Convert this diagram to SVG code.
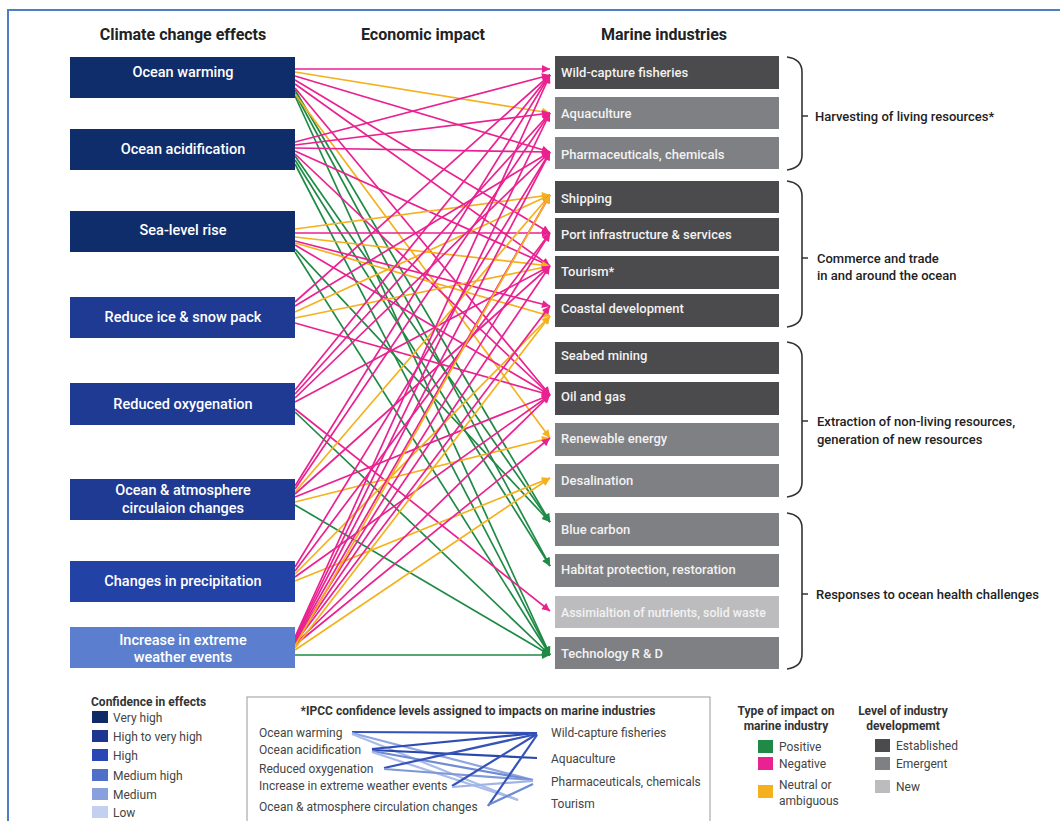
<svg xmlns="http://www.w3.org/2000/svg" width="1060" height="821" viewBox="0 0 1060 821">
<defs>
<style>
text{font-family:Roboto,"Liberation Sans",sans-serif}
.hdr{font-size:16px;font-weight:700;fill:#222;text-anchor:middle}
.lt{font-size:14.5px;font-weight:500;fill:#fff;text-anchor:middle}
.rt{font-size:13px;font-weight:500;fill:#f2f2f2}
.bl{font-size:13px;font-weight:500;fill:#222}
.br{fill:none;stroke:#333;stroke-width:1.6}
.est{fill:#4b4b4d}.emg{fill:#7e8083}.new{fill:#bcbcbe}
.c line{stroke-width:1.7;fill:none}
.n{stroke:#ea2190;marker-end:url(#mn)}
.o{stroke:#f5b11d;marker-end:url(#mo)}
.g{stroke:#1f8a45;marker-end:url(#mg)}
.lg{font-size:12px;fill:#444}
.lgb{font-size:12px;font-weight:700;fill:#333}
.ip{font-size:12px;fill:#444}
.il line{stroke-width:2.2}
</style>
<marker id="mn" markerUnits="userSpaceOnUse" markerWidth="10" markerHeight="8" viewBox="0 0 10 10" refX="10" refY="5" orient="auto"><path d="M0,0L10,5L0,10z" fill="#ea2190"/></marker>
<marker id="mo" markerUnits="userSpaceOnUse" markerWidth="10" markerHeight="8" viewBox="0 0 10 10" refX="10" refY="5" orient="auto"><path d="M0,0L10,5L0,10z" fill="#f5b11d"/></marker>
<marker id="mg" markerUnits="userSpaceOnUse" markerWidth="10" markerHeight="8" viewBox="0 0 10 10" refX="10" refY="5" orient="auto"><path d="M0,0L10,5L0,10z" fill="#1f8a45"/></marker>
</defs>
<rect width="1060" height="821" fill="#fff"/>
<path d="M8,830V10H1060" fill="none" stroke="#4d7fc2" stroke-width="2"/>

<g id="headers">
<text class="hdr" x="183" y="40">Climate change effects</text>
<text class="hdr" x="423" y="40">Economic impact</text>
<text class="hdr" x="664" y="40">Marine industries</text>
</g>

<g id="connectors" class="c">
<!-- Ocean warming -->
<line class="g" x1="295" y1="90" x2="550" y2="522"/>
<line class="g" x1="295" y1="93" x2="550" y2="566"/>
<line class="g" x1="295" y1="96" x2="550" y2="655"/>
<line class="o" x1="295" y1="94" x2="550" y2="438"/>
<line class="n" x1="295" y1="69" x2="550" y2="69"/>
<line class="o" x1="295" y1="72" x2="550" y2="113"/>
<line class="n" x1="295" y1="76" x2="550" y2="152"/>
<line class="n" x1="295" y1="80" x2="550" y2="233"/>
<line class="n" x1="295" y1="84" x2="550" y2="266"/>
<line class="n" x1="295" y1="88" x2="550" y2="395"/>
<!-- Ocean acidification -->
<line class="g" x1="295" y1="156" x2="550" y2="522"/>
<line class="g" x1="295" y1="160" x2="550" y2="566"/>
<line class="g" x1="295" y1="164" x2="550" y2="655"/>
<line class="n" x1="295" y1="142" x2="550" y2="75"/>
<line class="n" x1="295" y1="145" x2="550" y2="113"/>
<line class="n" x1="295" y1="148" x2="550" y2="152"/>
<line class="n" x1="295" y1="151" x2="550" y2="266"/>
<line class="n" x1="295" y1="154" x2="550" y2="395"/>
<!-- Sea-level rise -->
<line class="g" x1="295" y1="249" x2="550" y2="522"/>
<line class="g" x1="295" y1="252" x2="550" y2="655"/>
<line class="o" x1="295" y1="229" x2="550" y2="195"/>
<line class="n" x1="295" y1="233" x2="550" y2="233"/>
<line class="o" x1="295" y1="237" x2="550" y2="266"/>
<line class="n" x1="295" y1="241" x2="550" y2="306"/>
<line class="n" x1="295" y1="245" x2="550" y2="395"/>
<line class="o" x1="295" y1="243" x2="550" y2="316"/>
<!-- Reduce ice -->
<line class="n" x1="295" y1="302" x2="550" y2="75"/>
<line class="n" x1="295" y1="306" x2="550" y2="152"/>
<line class="o" x1="295" y1="312" x2="550" y2="195"/>
<line class="o" x1="295" y1="318" x2="550" y2="266"/>
<line class="n" x1="295" y1="323" x2="550" y2="395"/>
<!-- Reduced oxygenation -->
<line class="g" x1="295" y1="412" x2="550" y2="655"/>
<line class="n" x1="295" y1="390" x2="550" y2="75"/>
<line class="n" x1="295" y1="394" x2="550" y2="113"/>
<line class="n" x1="295" y1="398" x2="550" y2="152"/>
<line class="n" x1="295" y1="402" x2="550" y2="266"/>
<line class="n" x1="295" y1="409" x2="550" y2="611"/>
<!-- Ocean & atmosphere -->
<line class="g" x1="295" y1="505" x2="550" y2="655"/>
<line class="n" x1="295" y1="486" x2="550" y2="75"/>
<line class="n" x1="295" y1="489" x2="550" y2="113"/>
<line class="o" x1="295" y1="492" x2="550" y2="195"/>
<line class="n" x1="295" y1="494" x2="550" y2="266"/>
<line class="n" x1="295" y1="497" x2="550" y2="395"/>
<line class="o" x1="295" y1="502" x2="550" y2="438"/>
<!-- Changes in precipitation -->
<line class="n" x1="295" y1="567" x2="550" y2="152"/>
<line class="n" x1="295" y1="571" x2="550" y2="233"/>
<line class="o" x1="295" y1="574" x2="550" y2="316"/>
<line class="n" x1="295" y1="577" x2="550" y2="395"/>
<line class="o" x1="295" y1="581" x2="550" y2="478"/>
<!-- Increase in extreme weather -->
<line class="g" x1="295" y1="655" x2="550" y2="655"/>
<line class="n" x1="295" y1="637" x2="550" y2="75"/>
<line class="n" x1="295" y1="638" x2="550" y2="113"/>
<line class="n" x1="295" y1="639" x2="550" y2="152"/>
<line class="n" x1="295" y1="640" x2="550" y2="195"/>
<line class="n" x1="295" y1="641" x2="550" y2="233"/>
<line class="n" x1="295" y1="642" x2="550" y2="266"/>
<line class="n" x1="295" y1="643" x2="550" y2="306"/>
<line class="n" x1="295" y1="644" x2="550" y2="395"/>
<line class="n" x1="295" y1="645" x2="550" y2="438"/>
<line class="o" x1="295" y1="646" x2="550" y2="195"/>
<line class="o" x1="295" y1="648" x2="550" y2="316"/>
<line class="o" x1="295" y1="650" x2="550" y2="478"/>
</g>

<g id="n-ocean-warming"><rect x="70" y="57" width="225" height="41" fill="#0f2d6b"/><text class="lt" x="183" y="77">Ocean warming</text></g>
<g id="n-ocean-acidification"><rect x="70" y="129" width="225" height="41" fill="#0f2d6b"/><text class="lt" x="183" y="154">Ocean acidification</text></g>
<g id="n-sea-level-rise"><rect x="70" y="211" width="225" height="41" fill="#0f2d6b"/><text class="lt" x="183" y="235">Sea-level rise</text></g>
<g id="n-reduce-ice"><rect x="70" y="297" width="225" height="41" fill="#1e3a93"/><text class="lt" x="183" y="322">Reduce ice &amp; snow pack</text></g>
<g id="n-reduced-oxygenation"><rect x="70" y="383" width="225" height="42" fill="#1e3a93"/><text class="lt" x="183" y="409">Reduced oxygenation</text></g>
<g id="n-ocean-atmosphere"><rect x="70" y="479" width="225" height="41" fill="#1e3a93"/><text class="lt" x="183" y="495">Ocean &amp; atmosphere</text><text class="lt" x="183" y="513">circulaion changes</text></g>
<g id="n-precipitation"><rect x="70" y="561" width="225" height="41" fill="#2342a6"/><text class="lt" x="183" y="586">Changes in precipitation</text></g>
<g id="n-extreme-weather"><rect x="70" y="627" width="225" height="41" fill="#5b7fce"/><text class="lt" x="183" y="645">Increase in extreme</text><text class="lt" x="183" y="662">weather events</text></g>

<g id="n-wild-capture"><rect class="est" x="555" y="56" width="224" height="33"/><text class="rt" x="561" y="77">Wild-capture fisheries</text></g>
<g id="n-aquaculture"><rect class="emg" x="555" y="97" width="224" height="32"/><text class="rt" x="561" y="118">Aquaculture</text></g>
<g id="n-pharma"><rect class="emg" x="555" y="137" width="224" height="32"/><text class="rt" x="561" y="159">Pharmaceuticals, chemicals</text></g>
<g id="n-shipping"><rect class="est" x="555" y="181" width="224" height="32"/><text class="rt" x="561" y="203">Shipping</text></g>
<g id="n-port"><rect class="est" x="555" y="218" width="224" height="33"/><text class="rt" x="561" y="239">Port infrastructure &amp; services</text></g>
<g id="n-tourism"><rect class="est" x="555" y="256" width="224" height="33"/><text class="rt" x="561" y="276">Tourism*</text></g>
<g id="n-coastal"><rect class="est" x="555" y="294" width="224" height="33"/><text class="rt" x="561" y="313">Coastal development</text></g>
<g id="n-seabed"><rect class="est" x="555" y="342" width="224" height="32"/><text class="rt" x="561" y="360">Seabed mining</text></g>
<g id="n-oil-gas"><rect class="est" x="555" y="382" width="224" height="33"/><text class="rt" x="561" y="401">Oil and gas</text></g>
<g id="n-renewable"><rect class="emg" x="555" y="423" width="224" height="33"/><text class="rt" x="561" y="443">Renewable energy</text></g>
<g id="n-desalination"><rect class="emg" x="555" y="464" width="224" height="33"/><text class="rt" x="561" y="485">Desalination</text></g>
<g id="n-blue-carbon"><rect class="emg" x="555" y="513" width="224" height="33"/><text class="rt" x="561" y="534">Blue carbon</text></g>
<g id="n-habitat"><rect class="emg" x="555" y="554" width="224" height="33"/><text class="rt" x="561" y="574">Habitat protection, restoration</text></g>
<g id="n-assimilation"><rect class="new" x="555" y="596" width="224" height="32"/><text class="rt" x="561" y="617" style="font-size:12.4px">Assimialtion of nutrients, solid waste</text></g>
<g id="n-technology"><rect class="emg" x="555" y="637" width="224" height="32"/><text class="rt" x="561" y="658">Technology R &amp; D</text></g>

<g id="groups">
<path class="br" d="M787,57Q802,59 802,72V155Q802,168 787,170M802,116H808"/>
<text class="bl" x="815" y="121">Harvesting of living resources*</text>
<path class="br" d="M787,181Q802,183 802,196V312Q802,325 787,327M802,258H808"/>
<text class="bl" x="817" y="263">Commerce and trade</text>
<text class="bl" x="817" y="280">in and around the ocean</text>
<path class="br" d="M787,342Q802,344 802,357V482Q802,495 787,497M802,421H808"/>
<text class="bl" x="817" y="426">Extraction of non-living resources,</text>
<text class="bl" x="817" y="444">generation of new resources</text>
<path class="br" d="M787,513Q802,515 802,528V654Q802,667 787,669M802,594H808"/>
<text class="bl" x="816" y="599">Responses to ocean health challenges</text>
</g>

<g id="legend-confidence">
<text class="lgb" x="91" y="706">Confidence in effects</text>
<rect x="92" y="711" width="16" height="12" fill="#0f2b66"/><text class="lg" x="113" y="722">Very high</text>
<rect x="92" y="730" width="16" height="12" fill="#1c3590"/><text class="lg" x="113" y="741">High to very high</text>
<rect x="92" y="749" width="16" height="12" fill="#2a48b3"/><text class="lg" x="113" y="760">High</text>
<rect x="92" y="769" width="16" height="12" fill="#5070c8"/><text class="lg" x="113" y="780">Medium high</text>
<rect x="92" y="788" width="16" height="12" fill="#88a1dc"/><text class="lg" x="113" y="799">Medium</text>
<rect x="92" y="806" width="16" height="12" fill="#c4d0ef"/><text class="lg" x="113" y="817">Low</text>
</g>

<g id="legend-ipcc">
<rect x="247" y="697" width="463" height="140" fill="none" stroke="#999" stroke-width="1"/>
<text class="lgb" x="478" y="715" text-anchor="middle">*IPCC confidence levels assigned to impacts on marine industries</text>
<text class="ip" x="259" y="737">Ocean warming</text>
<text class="ip" x="259" y="754">Ocean acidification</text>
<text class="ip" x="259" y="773">Reduced oxygenation</text>
<text class="ip" x="259" y="790">Increase in extreme weather events</text>
<text class="ip" x="259" y="811">Ocean &amp; atmosphere circulation changes</text>
<text class="ip" x="551" y="737">Wild-capture fisheries</text>
<text class="ip" x="551" y="763">Aquaculture</text>
<text class="ip" x="551" y="786">Pharmaceuticals, chemicals</text>
<text class="ip" x="551" y="808">Tourism</text>
<g class="il">
<line x1="352" y1="732" x2="537" y2="733" stroke="#3553b8"/>
<line x1="352" y1="733" x2="533" y2="780" stroke="#8fa6e0"/>
<line x1="352" y1="734" x2="518" y2="800" stroke="#a9bbe9"/>
<line x1="372" y1="749" x2="537" y2="733" stroke="#2f4cb3"/>
<line x1="372" y1="750" x2="537" y2="758" stroke="#2a47ad"/>
<line x1="372" y1="751" x2="533" y2="780" stroke="#6f8bd6"/>
<line x1="372" y1="752" x2="518" y2="800" stroke="#a9bbe9"/>
<line x1="384" y1="768" x2="537" y2="734" stroke="#3553b8"/>
<line x1="384" y1="769" x2="533" y2="780" stroke="#7f98da"/>
<line x1="452" y1="786" x2="537" y2="734" stroke="#3553b8"/>
<line x1="452" y1="787" x2="533" y2="781" stroke="#9fb3e6"/>
<line x1="488" y1="806" x2="537" y2="735" stroke="#3553b8"/>
<line x1="488" y1="805" x2="533" y2="784" stroke="#6f8bd6"/>
</g>
</g>

<g id="legend-impact">
<text class="lgb" x="786" y="715" text-anchor="middle">Type of impact on</text>
<text class="lgb" x="786" y="730" text-anchor="middle">marine industry</text>
<rect x="758" y="740" width="15" height="13" fill="#1f8a45"/><text class="lg" x="779" y="751">Positive</text>
<rect x="758" y="757" width="15" height="13" fill="#ea2190"/><text class="lg" x="779" y="768">Negative</text>
<rect x="758" y="785" width="15" height="13" fill="#f5b11d"/><text class="lg" x="779" y="789">Neutral or</text><text class="lg" x="779" y="805">ambiguous</text>
</g>

<g id="legend-development">
<text class="lgb" x="903" y="715" text-anchor="middle">Level of industry</text>
<text class="lgb" x="903" y="730" text-anchor="middle">developmemt</text>
<rect class="est" x="875" y="739" width="15" height="13"/><text class="lg" x="896" y="750">Established</text>
<rect class="emg" x="875" y="757" width="15" height="13"/><text class="lg" x="896" y="768">Emergent</text>
<rect class="new" x="875" y="780" width="15" height="13"/><text class="lg" x="896" y="791">New</text>
</g>
</svg>
